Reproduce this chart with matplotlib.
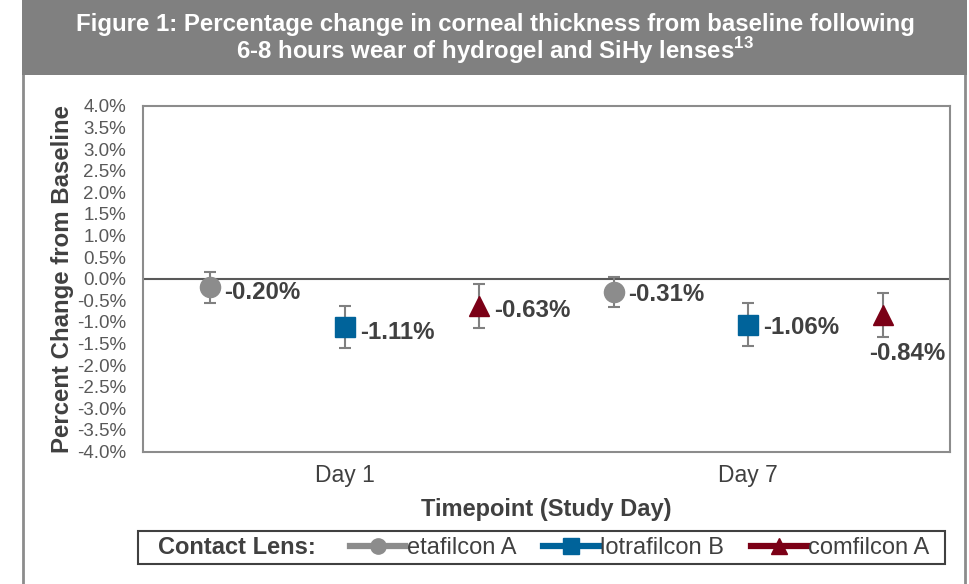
import matplotlib.pyplot as plt
import numpy as np
from matplotlib.lines import Line2D
from matplotlib.patches import Rectangle

plt.rcParams['font.family'] = ['Liberation Sans', 'DejaVu Sans']
plt.rcParams['mathtext.fontset'] = 'custom'
plt.rcParams['mathtext.rm'] = 'Liberation Sans'
plt.rcParams['mathtext.bf'] = 'Liberation Sans:bold'

# data
timepoints = ["Day 1", "Day 7"]
lenses = ["etafilcon A", "lotrafilcon B", "comfilcon A"]
change_pct = {
    "etafilcon A": [-0.20, -0.31],
    "lotrafilcon B": [-1.11, -1.06],
    "comfilcon A": [-0.63, -0.84],
}
err_pct = {
    "etafilcon A": [0.35, 0.35],
    "lotrafilcon B": [0.49, 0.50],
    "comfilcon A": [0.50, 0.50],
}
yticks = np.arange(-4.0, 4.01, 0.5)

colors = {"etafilcon A": "#8c8c8c", "lotrafilcon B": "#00639a", "comfilcon A": "#7b0016"}
markers = {"etafilcon A": "o", "lotrafilcon B": "s", "comfilcon A": "^"}
msize = {"etafilcon A": 14.5, "lotrafilcon B": 14.5, "comfilcon A": 15}
offsets = [-1/3, 0, 1/3]
# label offsets in points (x, y) relative to the marker
label_off = {
    ("etafilcon A", 0): (10, -4), ("lotrafilcon B", 0): (11, -4), ("comfilcon A", 0): (11, -3),
    ("etafilcon A", 1): (10, -2), ("lotrafilcon B", 1): (11, -2), ("comfilcon A", 1): (-10, -28),
}

W, H = 969, 584
fig = plt.figure(figsize=(W / 100, H / 100), dpi=100)

# outer frame + title band
fig.patches.append(Rectangle((22.5 / W, -0.01), (965 - 22.5) / W, 1.02, transform=fig.transFigure,
                             facecolor='white', edgecolor='#8c8c8c', linewidth=2, zorder=0))
fig.patches.append(Rectangle((22 / W, (H - 75) / H), (967 - 22) / W, 75 / H + 0.01,
                             transform=fig.transFigure, facecolor='#808080', edgecolor='none', zorder=0.5))
fig.text(495 / W, 1 - 25 / H, "Figure 1: Percentage change in corneal thickness from baseline following",
         ha='center', va='center', color='white', fontsize=17.3, fontweight='bold')
fig.text(495 / W, 1 - 51 / H, "6-8 hours wear of hydrogel and SiHy lenses$^{\\mathbf{13}}$",
         ha='center', va='center', color='white', fontsize=17.3, fontweight='bold')

ax = fig.add_axes([143 / W, (H - 451.5) / H, (950 - 143) / W, (451.5 - 106) / H])
ax.set_zorder(2)
x = np.arange(len(timepoints))

handles = []
for i, lens in enumerate(lenses):
    xs = x + offsets[i]
    ax.errorbar(xs, change_pct[lens], yerr=err_pct[lens], fmt='none', ecolor='#808080',
                elinewidth=1.5, capsize=4.5, capthick=1.5, zorder=3)
    ax.plot(xs, change_pct[lens], linestyle='none', marker=markers[lens], markersize=msize[lens],
            color=colors[lens], zorder=4)
    for j, v in enumerate(change_pct[lens]):
        dx, dy = label_off[(lens, j)]
        ax.annotate(f"{v:.2f}%", (xs[j], v), xytext=(dx, dy), textcoords='offset points',
                    ha='left', va='center', fontsize=17.3, fontweight='bold', color='#404040', zorder=5)
    handles.append(Line2D([], [], color=colors[lens], linewidth=4.5, marker=markers[lens],
                          markersize=11))

ax.axhline(0, color='#595959', linewidth=1.5, zorder=2)
ax.set_xlim(-0.5, 1.5)
ax.set_ylim(-4.0, 4.0)
ax.set_xticks(x)
ax.set_xticklabels(timepoints, fontsize=16.5, color='#404040')
ax.set_yticks(yticks)
ax.set_yticklabels([f"{t:.1f}%" for t in yticks], fontsize=13.5, color='#595959')
ax.tick_params(axis='y', length=0, pad=12)
ax.tick_params(axis='x', length=0, pad=9)
for s in ax.spines.values():
    s.set_color('#8c8c8c')
    s.set_linewidth(1.5)
ax.set_xlabel("Timepoint (Study Day)", fontsize=17, fontweight='bold', color='#404040', labelpad=8)
ax.set_ylabel("Percent Change from Baseline", fontsize=17.3, fontweight='bold', color='#404040', labelpad=2)

# legend box with the "Contact Lens:" caption
fig.patches.append(Rectangle((138 / W, 1 - 564 / H), (945 - 138) / W, 33 / H, transform=fig.transFigure,
                             facecolor='white', edgecolor='#404040', linewidth=1.5, zorder=3))
fig.text(158 / W, 1 - 548 / H, "Contact Lens:", ha='left', va='center', fontsize=17,
         fontweight='bold', color='#404040', zorder=4)
leg = fig.legend(handles, lenses, ncol=3, loc='center left', bbox_to_anchor=(350 / W, 1 - 548 / H),
                 frameon=False, fontsize=17, handlelength=2.35, handletextpad=0.05,
                 columnspacing=1.15, borderpad=0, borderaxespad=0)
leg.set_zorder(5)
for t in leg.get_texts():
    t.set_color('#404040')

fig.savefig("out.png", dpi=100)
